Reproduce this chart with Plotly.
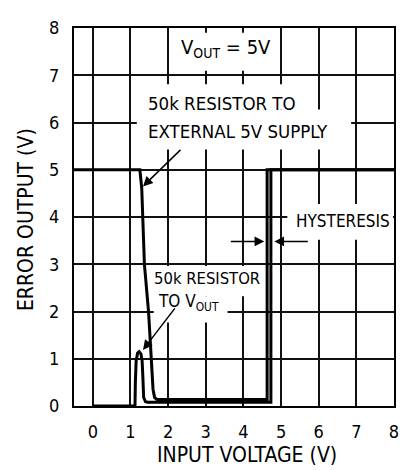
import plotly.graph_objects as go

# ---- data ----
ext_x = [-0.5, 1.25, 1.30, 1.33, 1.37, 1.48, 1.55, 1.60, 1.64, 1.70, 4.63, 4.63, 8.0]
ext_y = [5.0, 5.0, 4.6, 4.0, 3.0, 2.0, 1.0, 0.35, 0.18, 0.14, 0.14, 5.0, 5.0]

vout_x = [0.0, 1.12, 1.13, 1.15, 1.19, 1.23, 1.28, 1.31, 1.33, 1.35, 1.40, 1.46, 4.73, 4.73, 8.0]
vout_y = [0.0, 0.0, 0.5, 0.95, 1.12, 1.15, 1.1, 0.95, 0.6, 0.18, 0.09, 0.08, 0.08, 5.0, 5.0]

x_ticks = [0, 1, 2, 3, 4, 5, 6, 7, 8]
y_ticks = [0, 1, 2, 3, 4, 5, 6, 7, 8]

FONT = "DejaVu Sans Condensed, Liberation Sans, Arial, sans-serif"

OFF = 8  # page body margin of the html page
W, H = 408 - OFF, 470 - OFF
L, R, T, B = 74 - OFF, 13, 17 - OFF, 64
PW, PH = W - L - R, H - T - B
X0, Y0 = L + OFF, T + OFF  # plot origin in page pixels


def px(x):
    return (x - X0) / PW


def py(y):
    return (Y0 + PH - y) / PH


fig = go.Figure()
fig.add_trace(go.Scatter(x=ext_x, y=ext_y, mode="lines",
                         line=dict(color="black", width=3), hoverinfo="skip"))
fig.add_trace(go.Scatter(x=vout_x, y=vout_y, mode="lines",
                         line=dict(color="black", width=3), hoverinfo="skip"))

# white masks behind the labels (they cover only grid lines)
masks = [(170, 22, 278, 61), (137, 75, 312, 101), (137, 101, 352, 142),
         (288, 198, 394, 235), (154, 262, 265, 293), (154, 293, 228, 320)]
shapes = []
for x0, y0, x1, y1 in masks:
    shapes.append(dict(type="rect", xref="paper", yref="paper",
                       x0=px(x0), x1=px(x1), y0=py(y1), y1=py(y0),
                       fillcolor="white", line=dict(width=0), layer="above"))

ann = []


def text(t, x, y, xa="left", size=18):
    ann.append(dict(text=t, xref="paper", yref="paper", x=px(x), y=py(y),
                    xanchor=xa, yanchor="middle", showarrow=False,
                    font=dict(family=FONT, size=size, color="black")))


text("V<sub>OUT</sub> = 5V", 226, 38, xa="center", size=20)
text("50k RESISTOR TO", 146, 95, size=18.5)
text("EXTERNAL 5V SUPPLY", 146, 123, size=18.5)
text("HYSTERESIS", 295, 216, size=17)
text("50k RESISTOR", 152, 275, size=16.5)
text("TO V<sub>OUT</sub>", 156, 300, size=17)


def arrow(x, y, ax, ay):
    ann.append(dict(text="", x=x, y=y, ax=ax, ay=ay, xref="x", yref="y",
                    showarrow=True, arrowhead=2, arrowsize=1.3, arrowwidth=1.5,
                    arrowcolor="black", standoff=0))


arrow(1.332, 4.648, 39, -38)
arrow(1.332, 1.187, 33, -43)
arrow(4.556, 3.482, -35, 0)
arrow(4.821, 3.482, 35, 0)

# axis titles
ann.append(dict(text="INPUT VOLTAGE (V)", xref="paper", yref="paper",
                x=px(248), y=py(456), xanchor="center", yanchor="middle",
                showarrow=False, font=dict(family=FONT, size=21, color="black")))
ann.append(dict(text="ERROR OUTPUT (V)", xref="paper", yref="paper",
                x=px(26.5), y=py(214), xanchor="center", yanchor="middle",
                textangle=-90, showarrow=False,
                font=dict(family=FONT, size=21, color="black")))

fig.update_layout(
    width=W, height=H,
    margin=dict(l=L, r=R, t=T, b=B),
    paper_bgcolor="white", plot_bgcolor="white",
    showlegend=False,
    shapes=shapes, annotations=ann,
    font=dict(family=FONT, size=18, color="black"),
)
fig.update_xaxes(range=[-0.5, 8], tickvals=x_ticks, ticktext=[str(v) for v in x_ticks],
                 showgrid=True, gridcolor="#111111", gridwidth=2, zeroline=False,
                 showline=True, linecolor="black", linewidth=2, mirror=True,
                 ticks="", ticklabelstandoff=8,
                 tickfont=dict(family=FONT, size=18, color="black"))
fig.update_yaxes(range=[0, 8], tickvals=y_ticks, ticktext=[str(v) for v in y_ticks],
                 showgrid=True, gridcolor="#111111", gridwidth=2, zeroline=False,
                 showline=True, linecolor="black", linewidth=2, mirror=True,
                 ticks="", ticklabelstandoff=9,
                 tickfont=dict(family=FONT, size=18, color="black"))

fig.write_html("out.html")
